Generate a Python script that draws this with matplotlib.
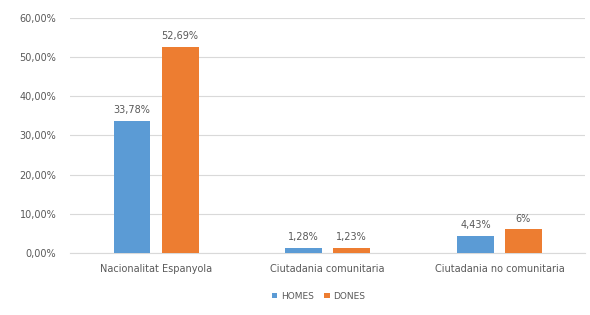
import numpy as np
import matplotlib.pyplot as plt
from matplotlib.ticker import FuncFormatter

categories = ["Nacionalitat Espanyola", "Ciutadania comunitaria", "Ciutadania no comunitaria"]
homes = [33.78, 1.28, 4.43]
dones = [52.69, 1.23, 6.0]
homes_labels = ["33,78%", "1,28%", "4,43%"]
dones_labels = ["52,69%", "1,23%", "6%"]

blue = "#5B9BD5"
orange = "#ED7D31"
txt = "#595959"

fig = plt.figure(figsize=(5.9, 3.15), dpi=100)
ax = fig.add_axes([0.119, 0.197, 0.873, 0.746])

x = np.arange(len(categories))
w = 0.215
off = 0.14
b1 = ax.bar(x - off, homes, w, color=blue, label="HOMES", zorder=3)
b2 = ax.bar(x + off, dones, w, color=orange, label="DONES", zorder=3)

for rect, lab in zip(b1, homes_labels):
    ax.text(rect.get_x() + rect.get_width() / 2, rect.get_height() + 1.5, lab,
            ha="center", va="bottom", fontsize=7, color=txt)
for rect, lab in zip(b2, dones_labels):
    ax.text(rect.get_x() + rect.get_width() / 2, rect.get_height() + 1.5, lab,
            ha="center", va="bottom", fontsize=7, color=txt)

ax.set_xlim(-0.5, 2.5)
ax.set_ylim(0, 60)
ax.set_yticks(np.arange(0, 61, 10))
ax.yaxis.set_major_formatter(FuncFormatter(lambda v, p: ("%.2f%%" % v).replace(".", ",")))
ax.set_xticks(x)
ax.set_xticklabels(categories)
ax.tick_params(axis="both", length=0, labelsize=7, colors=txt)
ax.tick_params(axis="x", pad=8)
ax.tick_params(axis="y", pad=10)
ax.grid(axis="y", color="#D9D9D9", linewidth=0.8, zorder=0)
for s in ["top", "right", "left"]:
    ax.spines[s].set_visible(False)
ax.spines["bottom"].set_color("#D9D9D9")

fig.legend(handles=[b1, b2], loc="center", bbox_to_anchor=(0.54, 0.06), ncol=2,
           frameon=False, fontsize=6.5, labelcolor=txt, handlelength=0.6,
           handleheight=0.6, handletextpad=0.4, columnspacing=1.2)

fig.savefig("out.png", dpi=100)
